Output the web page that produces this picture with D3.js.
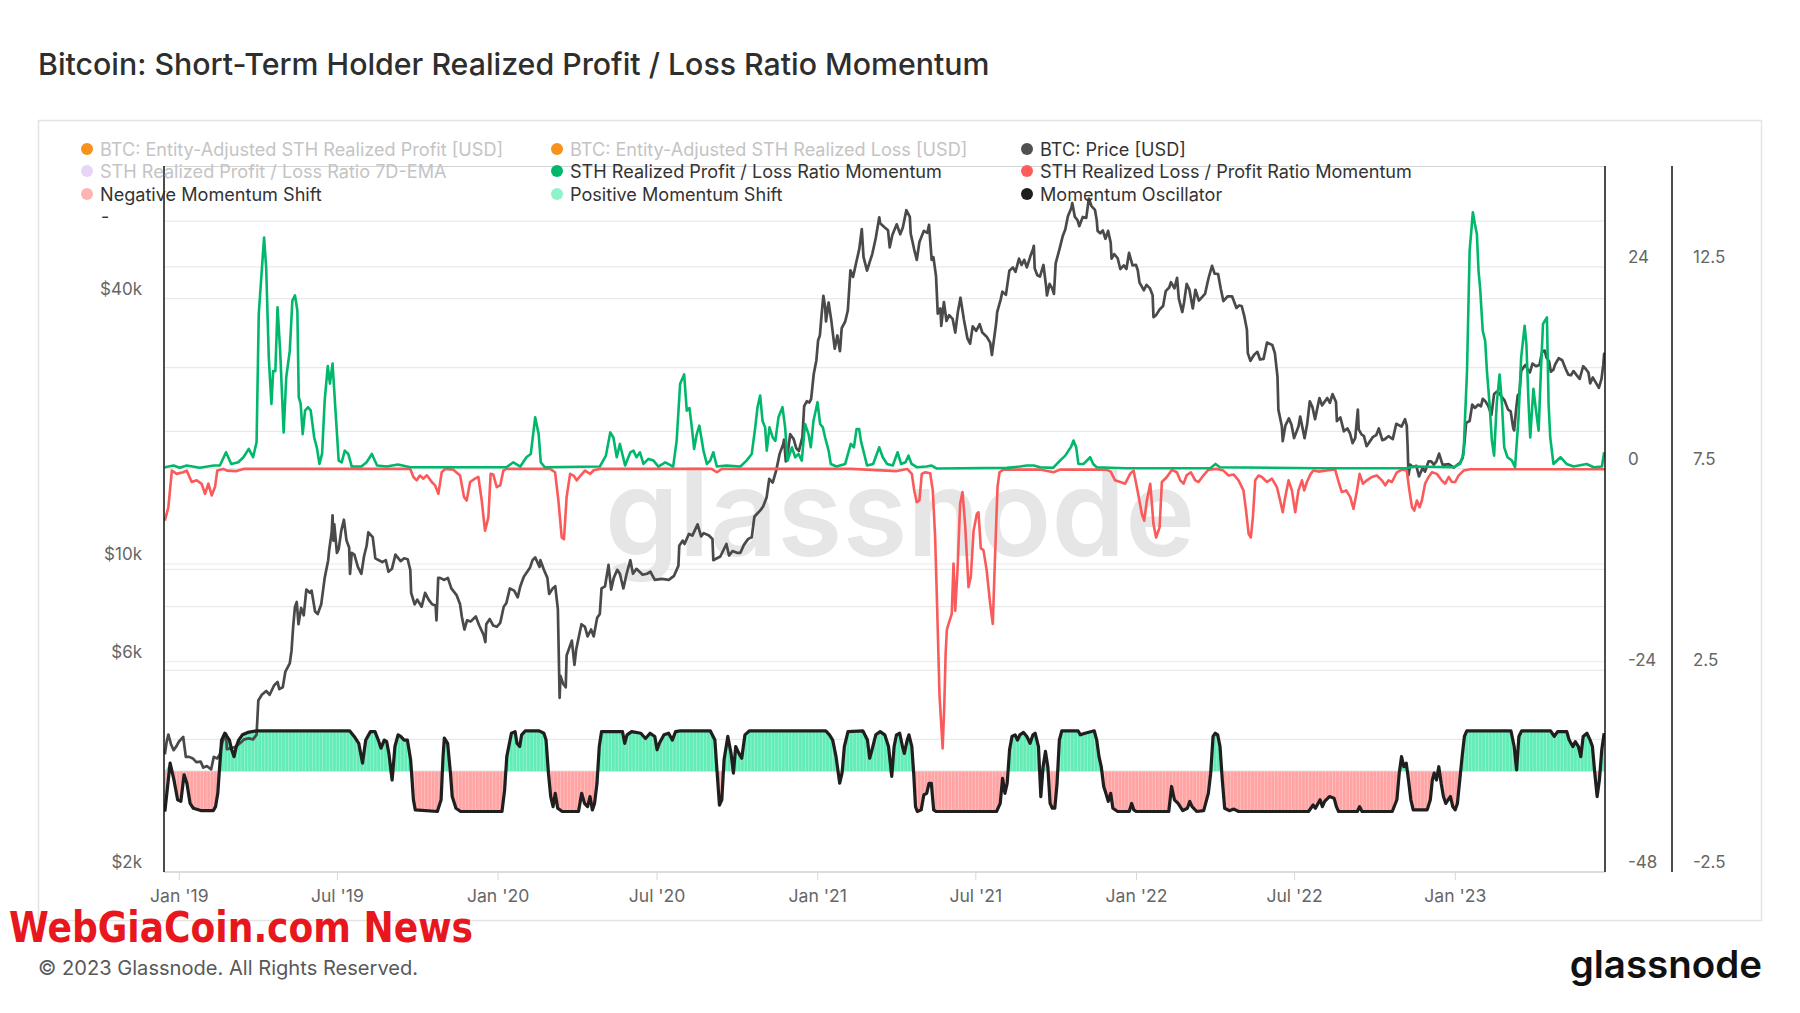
<!DOCTYPE html>
<html><head><meta charset="utf-8">
<script src="https://cdn.jsdelivr.net/npm/d3@7"></script>
<style>
body{margin:0;background:#fff;}
svg{display:block;font-family:Inter,"Noto Sans",sans-serif;}
</style></head>
<body><svg id="c" width="1800" height="1013"></svg>
<script>
// ---------- DATA (day offsets from 2019-01-01) ----------
const priceData = [[-16,3700],[-14,3950],[-12,4100],[-9,3900],[-6,3780],[-3,3850],[0,3950],[5,4050],[8,3650],[12,3650],[16,3620],[20,3550],[25,3560],[28,3450],[32,3480],[37,3420],[40,3650],[44,3620],[47,3700],[50,3950],[54,4120],[55,3800],[60,3820],[65,3850],[70,3920],[75,4000],[80,4020],[85,4000],[89,4100],[91,4900],[95,5050],[100,5150],[104,5050],[109,5300],[113,5400],[115,5200],[119,5250],[122,5700],[127,5950],[129,6350],[131,7250],[133,8000],[135,8200],[137,7300],[140,7950],[143,7650],[146,8750],[150,8600],[152,8700],[156,7800],[159,7700],[163,8100],[167,9300],[171,10200],[172,10700],[175,11800],[176,12900],[177,11300],[178,12300],[181,10600],[183,10800],[186,11900],[189,12600],[192,11300],[195,10900],[196,9500],[198,10600],[201,10500],[205,9850],[209,9500],[212,10400],[215,11000],[217,11800],[222,11500],[225,10300],[229,10200],[233,10100],[237,10200],[240,9600],[244,9750],[248,10500],[254,10150],[258,10300],[262,10250],[265,9700],[266,8600],[270,8100],[273,8300],[278,8000],[282,8600],[286,8300],[290,8100],[294,8050],[295,7450],[297,9300],[299,9300],[304,9200],[308,9300],[312,8800],[318,8500],[322,8100],[324,7600],[327,7100],[330,7450],[334,7400],[340,7600],[344,7250],[349,6900],[351,6650],[352,7300],[356,7500],[360,7250],[364,7200],[368,7350],[372,8000],[375,8150],[379,8800],[384,8700],[388,8400],[391,8900],[395,9350],[402,9800],[405,10200],[408,10350],[413,9850],[414,10200],[418,9700],[422,9300],[424,8550],[428,8800],[431,8900],[434,7900],[436,4970],[437,5570],[440,5350],[443,5250],[444,6200],[450,6700],[453,5900],[455,6400],[461,7300],[465,7200],[468,6850],[472,7100],[475,6850],[479,7550],[482,7700],[484,8800],[488,8900],[492,9950],[495,8750],[498,9300],[502,9700],[505,9500],[509,8800],[513,9550],[517,10200],[520,9500],[524,9750],[531,9450],[536,9500],[540,9600],[545,9200],[553,9250],[561,9200],[567,9400],[572,9900],[573,11000],[577,11300],[579,11100],[584,11700],[588,11600],[594,12300],[598,11550],[601,11750],[607,11600],[611,11400],[612,10200],[614,10250],[620,10400],[627,11100],[630,10450],[634,10700],[639,10600],[643,10600],[647,11050],[652,11400],[656,11500],[659,12800],[666,13250],[669,13500],[673,14150],[676,15600],[680,15300],[684,16300],[688,17800],[692,18700],[693,19150],[695,17100],[697,17700],[700,19700],[704,19200],[707,18300],[710,18050],[714,19400],[716,22800],[719,23400],[722,23250],[724,23700],[727,27000],[730,29000],[732,32200],[734,33000],[736,36800],[738,40600],[740,38300],[741,35500],[744,39200],[747,35800],[751,30800],[754,33000],[757,30400],[759,34300],[763,35500],[766,37600],[769,46400],[772,44800],[776,48700],[779,51700],[782,57500],[784,49700],[788,46300],[791,48400],[794,50500],[798,54900],[802,61200],[803,59300],[808,58100],[812,57200],[814,52300],[817,55800],[822,59000],[826,56000],[829,58000],[833,63500],[837,61300],[838,56200],[842,51700],[845,49000],[848,53800],[853,57000],[857,56400],[859,58800],[862,49000],[864,49700],[867,45000],[869,37000],[872,38000],[873,34700],[876,39300],[879,35600],[882,36700],[886,36000],[889,33500],[892,37300],[895,40200],[899,35800],[903,32500],[906,31600],[909,34600],[913,33800],[917,35000],[920,33500],[925,32800],[929,31800],[931,29800],[936,35400],[937,37300],[941,39800],[943,41500],[947,40800],[951,46300],[955,47100],[958,46000],[962,49300],[965,47700],[968,49000],[971,47100],[975,49900],[978,51800],[979,52700],[980,46800],[983,45200],[986,44900],[990,47700],[993,42800],[994,40700],[997,43200],[1000,42200],[1002,41000],[1004,48100],[1008,51500],[1012,55400],[1015,57400],[1018,61500],[1022,64300],[1023,65900],[1026,61300],[1029,60300],[1031,58400],[1035,61300],[1039,61000],[1042,67500],[1045,64900],[1049,63600],[1051,60300],[1052,57000],[1055,56300],[1058,57100],[1061,54700],[1064,57000],[1067,53600],[1068,49300],[1071,50500],[1075,49400],[1078,46700],[1082,47600],[1085,46700],[1088,50800],[1092,47600],[1096,47700],[1098,46400],[1100,43500],[1105,41800],[1108,43000],[1112,42200],[1115,40700],[1116,36300],[1119,36700],[1123,37800],[1127,38500],[1130,41600],[1134,42400],[1136,43600],[1140,42200],[1143,44600],[1145,40000],[1149,37300],[1151,39200],[1154,43200],[1157,42000],[1161,38000],[1164,41900],[1168,39600],[1175,41000],[1179,44500],[1183,47500],[1186,45600],[1190,45500],[1193,42200],[1196,39500],[1201,40500],[1206,40500],[1211,38100],[1214,38600],[1217,38500],[1220,36500],[1223,34000],[1224,30100],[1227,28900],[1231,29800],[1235,30300],[1238,29100],[1242,29200],[1246,31800],[1252,31400],[1255,30100],[1258,26600],[1259,22400],[1263,20500],[1264,19000],[1267,20600],[1271,21400],[1274,20700],[1277,19300],[1282,20500],[1284,21600],[1289,19300],[1292,20800],[1295,23400],[1298,22700],[1301,21300],[1306,23800],[1309,22900],[1315,23800],[1318,23200],[1321,24300],[1325,23300],[1326,21100],[1330,21500],[1334,20000],[1338,20300],[1341,19800],[1344,18800],[1347,19300],[1350,22400],[1351,20200],[1354,19700],[1357,19500],[1360,18500],[1364,19000],[1367,19400],[1371,19600],[1374,20300],[1378,19100],[1381,19200],[1385,19500],[1390,19200],[1394,20800],[1400,20500],[1404,21300],[1406,20600],[1407,18500],[1408,15900],[1410,16800],[1413,16600],[1417,16700],[1420,15800],[1424,16500],[1427,16200],[1431,17100],[1434,17100],[1437,16800],[1440,17100],[1443,17800],[1447,16800],[1450,16800],[1454,16850],[1457,16700],[1460,16550],[1464,16800],[1467,16950],[1470,17400],[1472,18800],[1474,20900],[1478,21100],[1481,23000],[1484,22600],[1488,23000],[1491,22800],[1493,23700],[1496,23400],[1499,22900],[1503,21800],[1506,24300],[1509,24600],[1512,24400],[1515,23900],[1518,23500],[1522,22400],[1525,22200],[1528,20300],[1529,20100],[1531,22200],[1533,24100],[1535,24400],[1537,27400],[1540,28000],[1542,28300],[1545,27500],[1547,27200],[1550,28500],[1554,28100],[1558,28300],[1561,30300],[1564,30500],[1566,29400],[1569,28800],[1571,27300],[1574,27600],[1576,28400],[1580,29300],[1584,29000],[1588,27700],[1591,26900],[1594,26800],[1597,27400],[1600,26900],[1604,26300],[1608,28100],[1611,27700],[1614,27200],[1616,25700],[1619,26500],[1622,25900],[1626,25100],[1629,26300],[1631,28300],[1632,30000],[1633,30100]];

const profitMomentum = [[-16,0.16],[-6,0.36],[1,0.1],[9,0.36],[24,0.1],[40,0.36],[47,0.36],[54,1.94],[60,0.55],[68,0.75],[74,1.35],[80,2.34],[85,1.35],[89,3.13],[91.5,18.4],[97.6,27.5],[100,23.9],[103,13.2],[106,7.7],[108,11.6],[110.5,11.6],[113,19.2],[116,14.0],[120,4.3],[123,10.9],[127,14.0],[130,20.0],[133,20.6],[135.7,18.8],[137.3,8.5],[139.5,7.7],[141.8,4.1],[144.5,6.9],[148,7.3],[151,6.9],[155,3.7],[158,2.5],[161,0.55],[164,1.74],[167,8.1],[170.5,12.2],[173,10.1],[176,12.5],[179.6,6.5],[183,0.95],[186.5,0.75],[190,2.14],[194,1.74],[198,0.24],[209,0.24],[215,0.75],[221,1.74],[227,0.36],[238,0.24],[251,0.48],[265,0.16],[303,0.16],[375,0.16],[383,0.75],[391,0.24],[398,1.35],[403,1.74],[408,6.1],[412,4.1],[414.4,0.75],[419,0.16],[482,0.24],[489,1.54],[494,4.3],[497.6,3.7],[501.4,1.35],[505,2.93],[511,0.36],[517,1.94],[520.5,2.14],[524,1.35],[528,1.94],[532,0.55],[537.7,1.15],[543.5,0.95],[549,0.24],[557,0.75],[566,0.24],[570,3.3],[574,10.1],[578.6,11.2],[581.6,6.9],[584.7,7.2],[587.4,4.9],[590,2.34],[593,4.1],[596,5.1],[600.7,2.14],[604.6,0.55],[608.4,0.95],[612,1.94],[616,0.24],[627,0.36],[643,0.24],[650,0.95],[656,1.74],[660,4.9],[662.6,7.3],[665.6,8.7],[668.3,5.7],[671.3,4.9],[673.2,2.14],[676.3,4.9],[680,3.7],[683,3.3],[686.6,6.1],[691.2,7.3],[694.2,4.9],[697,0.95],[702,2.53],[705.7,1.35],[709.5,1.74],[713.3,0.95],[717,5.3],[721,4.1],[723.6,2.53],[726.7,5.7],[731.3,7.9],[734.3,5.3],[737.4,4.9],[740,3.7],[744,2.14],[746.5,0.55],[753,0.24],[763,0.55],[769.4,2.93],[773,2.53],[776,4.7],[779,4.7],[781,3.3],[788,0.36],[795,0.55],[802,2.53],[806,1.35],[811,0.55],[817.5,0.36],[823,1.94],[827,0.55],[832,0.75],[835.5,1.54],[839,0.55],[845,0.16],[856,0.24],[862,0.36],[868,0.0],[948,0.08],[963,0.24],[971,0.36],[979,0.36],[986,0.16],[1001,0.08],[1009,0.95],[1015,1.54],[1018.7,2.14],[1021.4,2.53],[1024.4,3.33],[1027.5,2.53],[1030,0.55],[1036,0.55],[1043.5,1.35],[1047,0.55],[1051,0.16],[1084,0.04],[1181,0.04],[1187,0.55],[1192,0.16],[1307,0.04],[1406,0.04],[1414,0.24],[1460,0.16],[1467,0.55],[1471,1.74],[1475,11.6],[1478,25.9],[1481.7,30.5],[1484,29.1],[1486.3,27.9],[1488.2,23.5],[1490,21.5],[1493,16.4],[1495.8,15.2],[1497.8,11.6],[1500.8,7.7],[1503.5,3.3],[1506,1.54],[1509,7.7],[1512.3,11.2],[1515,7.7],[1517.6,2.53],[1521.4,1.35],[1526.4,0.95],[1530,0.16],[1534,6.1],[1537,13.2],[1541,17.0],[1543,14.8],[1545.5,7.7],[1547.4,3.7],[1551,9.5],[1554,6.9],[1557,4.5],[1559.6,11.6],[1562,17.2],[1566.5,18.0],[1568.4,7.7],[1570.3,3.7],[1574,0.55],[1582,1.35],[1589,0.55],[1597,0.24],[1612,0.55],[1620,0.16],[1629.5,0.24],[1632,1.94]];

const lossMomentum = [[-16,-6.2],[-12,-4.6],[-8,-0.24],[-2.5,-0.63],[5,-0.44],[9,-0.24],[14.7,-1.6],[20.5,-1.4],[26,-1.8],[30,-3.0],[33.8,-1.8],[37.6,-3.2],[41.4,-2.2],[44,-0.24],[51,-0.04],[55,-0.24],[66,-0.3],[74,-0.04],[265,-0.04],[268.6,-1.0],[272.4,-1.4],[276,-0.83],[280,-1.2],[284,-0.8],[289.6,-1.6],[293.4,-2.0],[297.2,-3.0],[301,-0.44],[305,-0.04],[314,-0.12],[322,-0.83],[326.6,-3.4],[329.6,-3.8],[333.5,-1.6],[339,-1.2],[343,-1.0],[346.8,-3.8],[350.6,-7.4],[354.4,-5.8],[357,-0.63],[360,-0.7],[364,-2.2],[368,-2.0],[371.6,-0.24],[375,-0.04],[425,-0.04],[430.8,-0.44],[434.6,-3.8],[438.4,-8.2],[441,-8.4],[444,-3.4],[448,-0.63],[452,-0.83],[455.6,-1.4],[460,-0.83],[465,-0.24],[471,-0.63],[475,-0.2],[482,-0.04],[610,-0.04],[616,-0.44],[622,-0.04],[770,-0.04],[822,-0.3],[834,-0.04],[839.3,-0.63],[842,-2.6],[845,-4.0],[848,-3.8],[850.7,-0.63],[854.6,-0.44],[860.3,-0.55],[863.3,-2.6],[866,-8.2],[868.7,-18.1],[871,-27],[874.6,-33.3],[876.5,-28],[878,-22],[879.4,-19.2],[881.3,-18.5],[885,-17.3],[887,-11.3],[889,-16.9],[891.6,-12.1],[894.6,-4.2],[897.3,-2.8],[900.3,-6.6],[904.2,-14.1],[906.8,-12.9],[910,-7.4],[913.7,-5.4],[915.6,-5.2],[918.3,-9.5],[921.3,-9.7],[925,-12.1],[929,-16.1],[932,-18.5],[934.7,-10.1],[937.4,-2.2],[939.7,-0.44],[944,-0.12],[986,-0.12],[1001.5,-0.44],[1009,-0.12],[1062,-0.12],[1067,-0.36],[1072,-1.4],[1078,-1.6],[1083.6,-1.8],[1089.4,-0.6],[1093.2,-0.24],[1097.7,-2.6],[1102.7,-5.4],[1105.4,-6.2],[1108.4,-3.8],[1112.3,-1.8],[1116,-6.6],[1119,-8.2],[1123,-7.0],[1125.6,-1.6],[1131.3,-1.0],[1137,-0.16],[1142.8,-0.44],[1146.6,-1.4],[1150.4,-1.8],[1154,-0.8],[1158.8,-0.44],[1163.8,-1.4],[1167.6,-1.6],[1173.3,-0.8],[1179,-0.12],[1188.6,-0.04],[1196,-0.24],[1202,-0.83],[1207.7,-0.7],[1213.4,-1.4],[1219,-2.6],[1222,-5.0],[1225,-7.8],[1227.5,-8.2],[1229.8,-5.8],[1232.5,-1.4],[1236.3,-0.83],[1240,-1.0],[1246,-1.6],[1251.6,-1.2],[1257.3,-2.2],[1261,-3.8],[1264,-5.2],[1266.8,-3.4],[1270.7,-1.4],[1274.5,-2.6],[1278.3,-5.2],[1282,-2.6],[1286,-1.4],[1288.6,-2.6],[1291.7,-1.6],[1296,-0.63],[1299,-0.24],[1305,-0.36],[1316,-0.2],[1324,-0.12],[1328,-1.6],[1331.7,-2.8],[1336.7,-2.6],[1341.3,-3.4],[1345,-4.8],[1349,-2.6],[1352,-0.63],[1355.8,-1.8],[1360.3,-1.4],[1366,-1.0],[1371.8,-0.83],[1377.5,-1.4],[1381.4,-2.0],[1385.2,-1.4],[1389,-1.6],[1394.7,-0.44],[1400.4,-0.12],[1406,-0.24],[1409,-2.6],[1412,-4.6],[1414.6,-5.0],[1417.6,-3.8],[1420.7,-4.6],[1423.3,-3.8],[1427,-1.8],[1431,-1.0],[1434.8,-0.44],[1440.5,-0.63],[1446,-1.4],[1450,-1.8],[1454,-1.0],[1457.7,-1.6],[1461.5,-1.6],[1465.3,-0.83],[1471,-0.24],[1478.7,-0.08],[1633,-0.08]];

const oscillator = [[-16,-1.0],[-10,0.2],[-5.6,-0.22],[-1.4,-0.71],[2.3,-0.75],[6,-0.09],[9.2,-0.3],[12.9,-0.8],[16.6,-0.92],[26,-0.98],[39.4,-0.98],[42,-0.88],[44.6,-0.55],[46.2,-0.05],[48.9,0.77],[52.6,0.94],[57.9,0.77],[60.5,0.53],[63.2,0.36],[65.8,0.61],[68.5,0.77],[72.7,0.9],[79,0.96],[89.6,1.0],[195.5,1.0],[200.8,0.86],[206,0.69],[210.3,0.2],[214,0.77],[219.4,0.98],[224.6,0.98],[228.4,0.77],[231.5,0.57],[235.2,0.77],[238,0.73],[240.5,0.44],[244.2,-0.22],[247.4,0.61],[251,0.9],[254,0.86],[258,0.77],[261.7,0.77],[265.4,0.28],[268.6,-0.71],[270.7,-0.96],[296,-1.0],[300.3,-0.71],[302.5,0.36],[304,0.82],[307.8,0.69],[311,-0.05],[313,-0.63],[317.3,-0.92],[322.6,-1.0],[370,-1.0],[373,-0.47],[375.5,0.36],[380.8,0.94],[385,0.98],[387.2,0.69],[390.3,0.61],[392.5,0.9],[396.7,1.0],[412.6,1.0],[418,0.94],[420.5,0.77],[423.2,-0.05],[425.8,-0.63],[428.5,-0.88],[431,-0.55],[433.8,-0.92],[439,-1.0],[457.6,-1.0],[461.3,-0.55],[464.5,-0.8],[468,-0.88],[470.8,-0.63],[473.5,-0.96],[476,-0.8],[478.8,-0.3],[481.4,0.61],[484,0.98],[508,0.98],[510.5,0.69],[513.2,0.9],[518.5,0.98],[529,0.94],[534.3,0.81],[539.6,0.94],[545,0.86],[547.6,0.53],[550.2,0.69],[555.5,0.9],[560.8,0.94],[565,0.77],[568.8,0.98],[574,1.0],[608.5,1.0],[613.8,0.77],[616.4,-0.05],[619,-0.84],[621.7,-0.71],[624.3,0.28],[628.6,0.86],[632.3,0.44],[635,-0.05],[637.6,0.61],[641.3,0.44],[644.5,0.32],[648.2,0.9],[653.4,1.0],[740.8,1.0],[745,0.9],[748.7,0.77],[752.5,0.36],[756.7,-0.3],[759.4,-0.05],[762,0.61],[766.2,0.98],[783.2,1.0],[788.5,0.77],[791,0.32],[793.7,0.53],[798,0.9],[803,0.98],[808.3,0.9],[812.6,0.61],[816.3,-0.13],[819,0.61],[821.7,0.9],[825.4,0.94],[828.6,0.61],[830.7,0.44],[834,0.77],[836,0.9],[839.3,0.61],[841.4,-0.05],[843.5,-0.88],[845.6,-1.0],[850,-0.96],[853,-0.59],[856.3,-0.55],[859,-0.3],[861.6,-0.3],[864.3,-0.96],[867,-1.0],[936.3,-1.0],[940.5,-0.8],[943.2,-0.18],[945.9,-0.55],[948.5,-0.3],[951.2,0.53],[954,0.86],[957.6,0.9],[960.3,0.77],[963,0.9],[967.2,0.96],[971,0.86],[974.7,0.69],[978,0.9],[980.5,0.94],[984.3,0.61],[987,-0.63],[989.6,0.11],[992.3,0.49],[995,0.11],[997.6,-0.8],[1000.2,-0.92],[1003,-0.92],[1005.6,-0.3],[1008.2,0.77],[1011,1.0],[1029.6,1.0],[1032.2,0.9],[1037.6,0.94],[1048.2,1.0],[1051,0.77],[1053.6,0.36],[1056.2,0.11],[1059,-0.38],[1061.5,-0.55],[1064.2,-0.75],[1067,-0.55],[1069.5,-0.92],[1075,-1.0],[1088.2,-1.0],[1091,-0.8],[1093.5,-0.96],[1096.2,-1.0],[1133.5,-1.0],[1136.7,-0.38],[1140,-0.71],[1144.2,-0.8],[1149.5,-0.98],[1154.8,-0.92],[1157.5,-0.75],[1160.2,-0.88],[1165.5,-1.0],[1173.5,-0.98],[1178.8,-0.55],[1181.5,-0.05],[1184.2,0.86],[1186.8,0.94],[1189.5,0.9],[1192.2,0.61],[1194.8,-0.22],[1197.5,-0.92],[1202.8,-0.98],[1208,-0.94],[1213.5,-1.0],[1293.5,-1.0],[1298.8,-0.84],[1301.4,-0.92],[1306.8,-0.71],[1309.4,-0.88],[1312,-0.75],[1317.4,-0.63],[1322.8,-0.67],[1325.4,-0.88],[1328,-1.0],[1349.4,-1.0],[1352,-0.88],[1354.8,-1.0],[1389.4,-1.0],[1394.7,-0.71],[1397.4,-0.05],[1400,0.36],[1402.7,0.11],[1405.4,0.2],[1408,-0.22],[1410.7,-0.71],[1413.4,-0.96],[1429.4,-0.96],[1433,-0.71],[1435.3,-0.22],[1437.4,-0.05],[1440,-0.22],[1442.7,0.11],[1445.4,-0.3],[1448,-0.63],[1450.7,-0.8],[1453.4,-0.71],[1456,-0.63],[1458.7,-0.88],[1461.4,-0.96],[1464,-0.8],[1466.7,-0.22],[1469.4,0.36],[1472,0.86],[1474.7,1.0],[1525.3,1.0],[1529,0.61],[1531.8,0.03],[1534.4,0.86],[1537.6,1.0],[1570.7,1.0],[1574.9,0.86],[1578.7,0.98],[1589.3,0.98],[1592,0.77],[1596.2,0.61],[1599,0.73],[1602.6,0.61],[1605.3,0.36],[1608,0.86],[1612.3,0.94],[1616,0.77],[1618.6,0.61],[1621.3,-0.05],[1624,-0.63],[1626.6,-0.22],[1629.3,0.53],[1632,0.94]];

const xDomainDays = [-17, 1633];
const xTickDays = [0, 181, 365, 547, 731, 912, 1096, 1277, 1461];
const xTickLabels = ["Jan '19","Jul '19","Jan '20","Jul '20","Jan '21","Jul '21","Jan '22","Jul '22","Jan '23"];
const priceDomain = [2000, 80000];
const priceTicks = [2000, 6000, 10000, 40000];
const priceTickLabels = ["$2k","$6k","$10k","$40k"];
const priceGrid = [4000, 6000, 8000, 10000, 20000, 40000, 60000];
const momDomain = [-48, 36];
const momTicks = [-48, -24, 0, 24];
const momTickLabels = ["-48","-24","0","24"];
const oscDomain = [-2.5, 15];
const oscTicks = [-2.5, 2.5, 7.5, 12.5];
const oscTickLabels = ["-2.5","2.5","7.5","12.5"];
const oscGrid = [0, 5, 10];
const legendLabels = ["BTC: Entity-Adjusted STH Realized Profit [USD]","BTC: Entity-Adjusted STH Realized Loss [USD]","BTC: Price [USD]",
  "STH Realized Profit / Loss Ratio 7D-EMA","STH Realized Profit / Loss Ratio Momentum","STH Realized Loss / Profit Ratio Momentum",
  "Negative Momentum Shift","Positive Momentum Shift","Momentum Oscillator"];
const legendColors = ["#f7931a","#f7931a","#505050","#e6d5f7","#00b86b","#ff5c5c","#ffb4b4","#8ef2cb","#1e1e1e"];
const legendActive = [false,false,true,false,true,true,true,true,true];

// ---------- CHART ----------
const svg = d3.select('#c');
const L=164, R=1605, T=166, B=872;
const day0 = Date.UTC(2019,0,1);
const toDate = d => new Date(day0 + d*864e5);

const x = d3.scaleUtc().domain(xDomainDays.map(toDate)).range([L,R]);
const yP = d3.scaleLog().domain(priceDomain).range([B,T]);
const yM = d3.scaleLinear().domain(momDomain).range([B,T]);
const yO = d3.scaleLinear().domain(oscDomain).range([B,T]);

const defs = svg.append('defs');
const pg = defs.append('pattern').attr('id','pg').attr('patternUnits','userSpaceOnUse').attr('width',3.4).attr('height',10);
pg.append('rect').attr('width',3.4).attr('height',10).attr('fill','#62ecb6');
pg.append('rect').attr('x',2.7).attr('width',0.7).attr('height',10).attr('fill','#9ff4d3');
const pr = defs.append('pattern').attr('id','pr').attr('patternUnits','userSpaceOnUse').attr('width',3.4).attr('height',10);
pr.append('rect').attr('width',3.4).attr('height',10).attr('fill','#ffa3a3');
pr.append('rect').attr('x',2.7).attr('width',0.7).attr('height',10).attr('fill','#ffc6c6');
defs.append('clipPath').attr('id','clip').append('rect').attr('x',L).attr('y',T).attr('width',R-L).attr('height',B-T);

// container
svg.append('rect').attr('x',38.5).attr('y',120.5).attr('width',1723).attr('height',800)
  .attr('fill','#fff').attr('stroke','#e4e4e4').attr('stroke-width',1.5);

// title
svg.append('text').attr('x',38).attr('y',64).attr('dominant-baseline','central')
  .attr('font-size',30.3).attr('font-weight',500).attr('fill','#2e2e2e')
  .text('Bitcoin: Short-Term Holder Realized Profit / Loss Ratio Momentum');

// gridlines
const grid = svg.append('g').attr('stroke','#e9e9e9').attr('stroke-width',1.2);
const gy = [...priceGrid.map(v=>yP(v)), ...momTicks.filter(v=>v>momDomain[0]).map(v=>yM(v)), ...oscGrid.map(v=>yO(v))];
grid.selectAll('line').data(gy).join('line').attr('x1',L).attr('x2',R).attr('y1',d=>d).attr('y2',d=>d);
svg.append('line').attr('x1',L).attr('x2',R).attr('y1',T+0.5).attr('y2',T+0.5).attr('stroke','#d4d4d4').attr('stroke-width',1);
svg.append('line').attr('x1',L).attr('x2',R).attr('y1',B).attr('y2',B).attr('stroke','#dcdcdc').attr('stroke-width',2);

// watermark
svg.append('text').attr('x',900).attr('y',556).attr('text-anchor','middle')
  .attr('font-size',122).attr('font-weight',600).attr('fill','#e6e6e6')
  .attr('textLength',590).attr('lengthAdjust','spacingAndGlyphs').text('glassnode');

const plot = svg.append('g').attr('clip-path','url(#clip)');

// momentum shift fills
const areaPos = d3.area().x(d=>x(toDate(d[0]))).y0(yO(0)).y1(d=>yO(Math.max(0,d[1])));
const areaNeg = d3.area().x(d=>x(toDate(d[0]))).y0(yO(0)).y1(d=>yO(Math.min(0,d[1])));
plot.append('path').attr('d',areaNeg(oscillator)).attr('fill','url(#pr)');
plot.append('path').attr('d',areaPos(oscillator)).attr('fill','url(#pg)');

// price
const lineP = d3.line().x(d=>x(toDate(d[0]))).y(d=>yP(d[1]));
plot.append('path').attr('d',lineP(priceData)).attr('fill','none').attr('stroke','#4a4a4a').attr('stroke-width',2.7).attr('stroke-linejoin','round');

// momentum lines
const lineM = d3.line().x(d=>x(toDate(d[0]))).y(d=>yM(d[1]));
plot.append('path').attr('d',lineM(lossMomentum)).attr('fill','none').attr('stroke','#fb5a5a').attr('stroke-width',2.6).attr('stroke-linejoin','round');
plot.append('path').attr('d',lineM(profitMomentum)).attr('fill','none').attr('stroke','#00b86b').attr('stroke-width',2.6).attr('stroke-linejoin','round');

// oscillator
const lineO = d3.line().x(d=>x(toDate(d[0]))).y(d=>yO(d[1]));
plot.append('path').attr('d',lineO(oscillator)).attr('fill','none').attr('stroke','#1f1f1f').attr('stroke-width',3.2).attr('stroke-linejoin','round');

// axes lines
[L, R, 1672].forEach(px=>{
  svg.append('line').attr('x1',px).attr('x2',px).attr('y1',T).attr('y2',B).attr('stroke','#111').attr('stroke-width',1.5);
});

const tickFont = (g,s) => g.selectAll('text').attr('font-size',s).attr('fill','#666').attr('font-family','Inter,"Noto Sans",sans-serif');

// left price axis
const ax1 = svg.append('g').attr('transform',`translate(${L},0)`)
  .call(d3.axisLeft(yP).tickValues(priceTicks).tickFormat((d,i)=>priceTickLabels[i]).tickSize(0).tickPadding(22));
ax1.select('.domain').remove(); tickFont(ax1,17); ax1.selectAll('text').attr('y',-9.5);

// right momentum axis
const ax2 = svg.append('g').attr('transform',`translate(${R},0)`)
  .call(d3.axisRight(yM).tickValues(momTicks).tickFormat((d,i)=>momTickLabels[i]).tickSize(0).tickPadding(23));
ax2.select('.domain').remove(); tickFont(ax2,17); ax2.selectAll('text').attr('y',-10);

// far right oscillator axis
const ax3 = svg.append('g').attr('transform',`translate(1672,0)`)
  .call(d3.axisRight(yO).tickValues(oscTicks).tickFormat((d,i)=>oscTickLabels[i]).tickSize(0).tickPadding(21));
ax3.select('.domain').remove(); tickFont(ax3,17); ax3.selectAll('text').attr('y',-10);

// x axis
const ax4 = svg.append('g').attr('transform',`translate(0,${B})`)
  .call(d3.axisBottom(x).tickValues(xTickDays.map(toDate)).tickFormat((d,i)=>xTickLabels[i]).tickSize(8).tickPadding(9.5));
ax4.select('.domain').remove(); ax4.selectAll('line').attr('stroke','#d8d8d8'); tickFont(ax4,17.6);

// legend
const colX = [87, 557, 1027], rowY = [149, 171, 194];
const lg = svg.append('g');
legendLabels.forEach((lab,i)=>{
  const cx = colX[i%3], cy = rowY[Math.floor(i/3)];
  lg.append('circle').attr('cx',cx).attr('cy',cy).attr('r',6).attr('fill',legendColors[i]);
  lg.append('text').attr('x',cx+13).attr('y',cy).attr('dominant-baseline','central')
    .attr('font-size',18.1).attr('fill',legendActive[i]?'#333':'#c4c4c4').text(lab);
});
lg.append('text').attr('x',101).attr('y',216).attr('dominant-baseline','central').attr('font-size',18).attr('fill','#333').text('-');

// footer
svg.append('text').attr('x',38).attr('y',968).attr('dominant-baseline','central')
  .attr('font-size',20.1).attr('fill','#595959').text('© 2023 Glassnode. All Rights Reserved.');
svg.append('text').attr('x',1762).attr('y',978).attr('text-anchor','end')
  .attr('font-size',38.5).attr('font-weight',600).attr('fill','#111').text('glassnode');
svg.append('text').attr('x',9).attr('y',942).attr('font-size',42).attr('font-weight',700)
  .attr('font-family','"DejaVu Sans Condensed","Liberation Sans Narrow",sans-serif')
  .attr('fill','#e8161d').attr('textLength',464).attr('lengthAdjust','spacingAndGlyphs').text('WebGiaCoin.com News');
</script></body></html>
